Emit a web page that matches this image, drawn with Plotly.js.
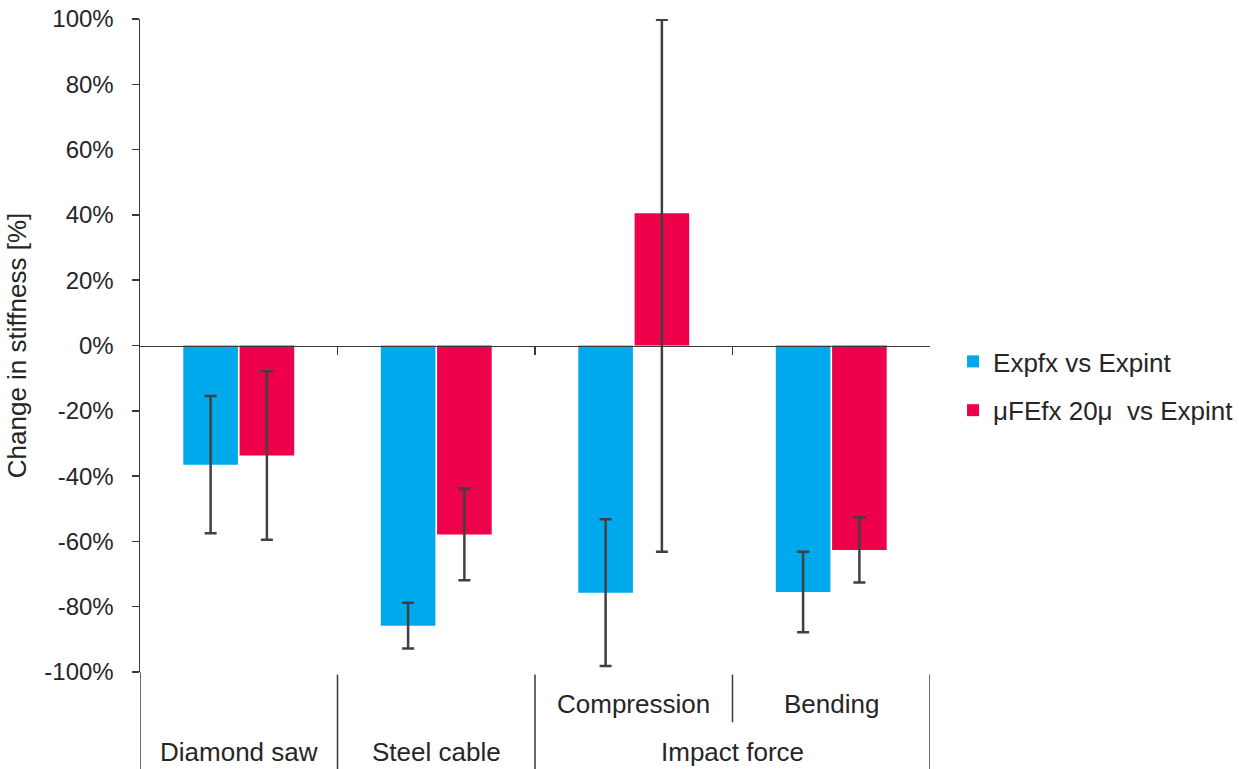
<!DOCTYPE html>
<html>
<head>
<meta charset="utf-8">
<script src="https://cdn.plot.ly/plotly-3.0.1.min.js"></script>
<style>
  html, body { margin: 0; padding: 0; background: #ffffff; }
  #chart { width: 1239px; height: 769px; }
</style>
</head>
<body>
<div id="chart"></div>
<script>
// Category layout: inner (sub-test) labels and the outer group each column belongs to
const innerLabels = ["", "", "Compression", "Bending"];
const outerGroups = ["Diamond saw", "Steel cable", "Impact force", "Impact force"];

// Series names
const seriesNames = ["Expfx vs Expint", "\u03bcFEfx 20\u03bc  vs Expint"];

// Change in stiffness [%]
const expfxValues = [-36.5, -85.8, -75.7, -75.5];
const expfxErr = [21.0, 7.0, 22.5, 12.3];

const ufeValues = [-33.7, -57.9, 40.5, -62.6];
const ufeErrPlus = [25.8, 14.0, 59.3, 10.0];
const ufeErrMinus = [25.8, 14.0, 103.7, 10.0];

// Y ticks
const yTickVals = [-100, -80, -60, -40, -20, 0, 20, 40, 60, 80, 100];

const FONT = "Liberation Sans, Arial, sans-serif";
const TEXT = "#262626";
const LINE = "#3a3a3a";
const ERR = "#404040";

const xPos = innerLabels.map((_, i) => i);

const traces = [
  {
    type: "bar",
    name: seriesNames[0],
    legendgroup: "a",
    x: xPos,
    y: expfxValues,
    marker: { color: "#00A9EC" },
    error_y: { type: "data", array: expfxErr, visible: true, color: ERR, thickness: 2.5, width: 6 },
    hoverinfo: "y"
  },
  {
    type: "bar",
    name: seriesNames[1],
    legendgroup: "b",
    x: xPos,
    y: ufeValues,
    marker: { color: "#EE004B" },
    error_y: { type: "data", symmetric: false, array: ufeErrPlus, arrayminus: ufeErrMinus, visible: true, color: ERR, thickness: 2.5, width: 6 },
    hoverinfo: "y"
  }
];

// Group boundaries (between columns whose outer group differs) and inner boundaries
const outerBounds = [];
const innerBounds = [];
for (let i = 1; i < xPos.length; i++) {
  if (outerGroups[i] !== outerGroups[i - 1]) outerBounds.push(i - 0.5);
  else innerBounds.push(i - 0.5);
}
outerBounds.push(xPos.length - 0.5);

const BOTTOM = -0.149;
const shapes = [];
// y-axis line continues down through the label area
shapes.push({ type: "line", xref: "x", yref: "paper", x0: -0.5, x1: -0.5, y0: 0, y1: BOTTOM, line: { color: LINE, width: 1.5 } });
outerBounds.forEach(b => shapes.push({ type: "line", xref: "x", yref: "paper", x0: b, x1: b, y0: -0.004, y1: BOTTOM, line: { color: LINE, width: 1.5 } }));
innerBounds.forEach(b => shapes.push({ type: "line", xref: "x", yref: "paper", x0: b, x1: b, y0: -0.004, y1: -0.077, line: { color: LINE, width: 1.5 } }));

// Category label annotations
const LABEL_SIZE = 26;
const annotations = [];
innerLabels.forEach((lab, i) => {
  if (lab) annotations.push({ xref: "x", yref: "paper", x: i, y: -0.049, text: lab, showarrow: false, xanchor: "center", yanchor: "middle", font: { family: FONT, size: LABEL_SIZE, color: TEXT } });
});
const seen = {};
outerGroups.forEach((g, i) => {
  if (!seen[g]) seen[g] = [];
  seen[g].push(i);
});
Object.keys(seen).forEach(g => {
  const idx = seen[g];
  const center = (idx[0] + idx[idx.length - 1]) / 2;
  annotations.push({ xref: "x", yref: "paper", x: center, y: -0.1225, text: g, showarrow: false, xanchor: "center", yanchor: "middle", font: { family: FONT, size: LABEL_SIZE, color: TEXT } });
});

const layout = {
  width: 1239,
  height: 769,
  margin: { l: 140, r: 309, t: 19, b: 97, autoexpand: false },
  paper_bgcolor: "#ffffff",
  plot_bgcolor: "#ffffff",
  font: { family: FONT, color: TEXT, size: 24 },
  barmode: "group",
  bargap: 0.43,
  bargroupgap: 0.03,
  showlegend: true,
  legend: {
    xref: "container", yref: "container",
    x: 0.7692, y: 0.5605, xanchor: "left", yanchor: "top",
    font: { family: FONT, size: 26, color: TEXT },
    tracegroupgap: 12,
    traceorder: "grouped",
    itemwidth: 30
  },
  xaxis: {
    type: "linear",
    range: [-0.5, xPos.length - 0.5],
    anchor: "free",
    position: 0.5,
    showline: true,
    linecolor: LINE,
    linewidth: 1.5,
    showgrid: false,
    zeroline: false,
    ticks: "outside",
    ticklen: 8,
    tickwidth: 1.5,
    tickcolor: LINE,
    tickvals: outerBounds.slice(0, -1).concat(innerBounds),
    showticklabels: false,
    fixedrange: true
  },
  yaxis: {
    range: [-100, 100],
    tickvals: yTickVals,
    ticktext: yTickVals.map(v => v + "%"),
    showline: true,
    linecolor: LINE,
    linewidth: 1.5,
    ticks: "outside",
    ticklen: 7,
    tickwidth: 1.5,
    tickcolor: LINE,
    ticklabelstandoff: 13,
    showgrid: false,
    zeroline: false,
    tickfont: { family: FONT, size: 24, color: TEXT },
    title: { text: "Change in stiffness [%]", font: { family: FONT, size: 26, color: TEXT }, standoff: 10 },
    automargin: false,
    fixedrange: true
  },
  shapes: shapes,
  annotations: annotations
};

Plotly.newPlot("chart", traces, layout, { displayModeBar: false, staticPlot: true });
</script>
</body>
</html>
